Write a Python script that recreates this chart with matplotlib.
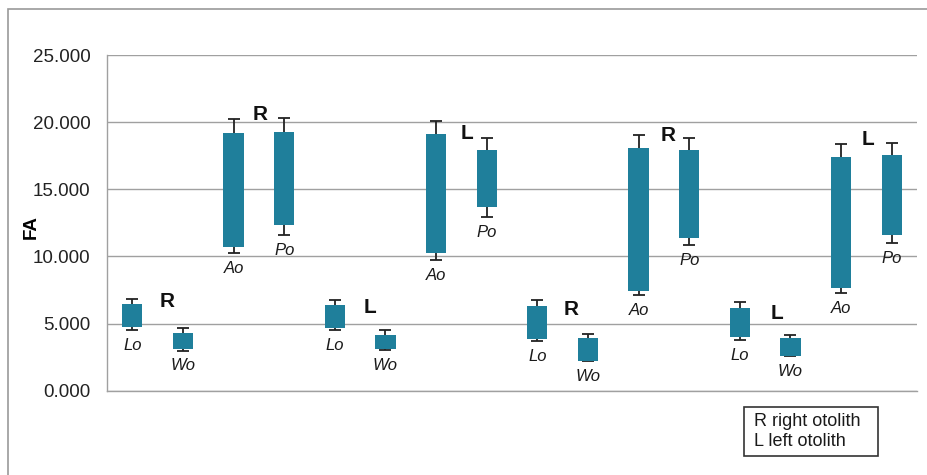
import matplotlib
matplotlib.use('Agg')
import matplotlib.pyplot as plt
from matplotlib.patches import Rectangle

plt.rcParams['font.family'] = ['Liberation Sans', 'DejaVu Sans']

# one entry per bar, left to right
names = ['Lo', 'Wo', 'Ao', 'Po'] * 4
box_low = [4.76, 3.08, 10.72, 12.33, 4.68, 3.11, 10.27, 13.68,
           3.86, 2.24, 7.46, 11.34, 3.98, 2.61, 7.66, 11.62]
box_high = [6.43, 4.32, 19.20, 19.28, 6.37, 4.18, 19.10, 17.91,
            6.29, 3.93, 18.06, 17.91, 6.17, 3.93, 17.41, 17.54]
err_low = [4.54, 2.98, 10.22, 11.59, 4.50, 3.01, 9.73, 12.94,
           3.68, 2.19, 7.09, 10.85, 3.76, 2.56, 7.29, 11.02]
err_high = [6.85, 4.64, 20.22, 20.30, 6.79, 4.50, 20.10, 18.80,
            6.72, 4.23, 19.03, 18.80, 6.62, 4.18, 18.36, 18.46]

# side letters (R = right otolith, L = left otolith) and where they sit
sides = ['R', 'R', 'L', 'L', 'R', 'R', 'L', 'L']
side_x = [0.68, 2.53, 4.70, 6.61, 8.67, 10.59, 12.73, 14.54]
side_y = [6.68, 20.60, 6.16, 19.17, 6.06, 19.04, 5.76, 18.67]

yticks = [0, 5, 10, 15, 20, 25]
legend_lines = ['R right otolith', 'L left otolith']

bar_color = '#1f7f9b'
grid_color = '#a0a0a0'

fig = plt.figure(figsize=(9.28, 4.75), dpi=100)
# outer frame of the pasted chart (only top and left edges show)
fig.patches.append(Rectangle((8 / 928, -0.1), 1.2, (475 - 9) / 475 + 0.1,
                             transform=fig.transFigure, fill=False,
                             edgecolor='#9a9a9a', linewidth=1.2))

ax = fig.add_axes([107 / 928, (475 - 390.7) / 475, 810 / 928, 335.7 / 475])

x = list(range(len(names)))
heights = [h - l for l, h in zip(box_low, box_high)]
ax.bar(x, heights, bottom=box_low, width=0.4, color=bar_color, zorder=3)

mids = [(l + h) / 2 for l, h in zip(box_low, box_high)]
yerr = [[m - e for m, e in zip(mids, err_low)],
        [e - m for m, e in zip(mids, err_high)]]
ax.errorbar(x, mids, yerr=yerr, fmt='none', ecolor='#222222',
            elinewidth=1.3, capsize=4, capthick=1.3, zorder=2)

for i, name in enumerate(names):
    ax.annotate(name, (i, err_low[i]), xytext=(0, -11), textcoords='offset points',
                ha='center', va='center', fontsize=12, style='italic',
                color='#1a1a1a')

for s, sx, sy in zip(sides, side_x, side_y):
    ax.text(sx, sy, s, ha='center', va='center', fontsize=15,
            fontweight='bold', color='#111111')

ax.set_xlim(-0.5, len(names) - 0.5)
ax.set_ylim(0, 25)
ax.set_yticks(yticks)
ax.set_yticklabels(['%.3f' % v for v in yticks], fontsize=13.5, color='#222222')
ax.set_xticks([])
ax.tick_params(axis='y', length=0, pad=12)
ax.set_ylabel('FA', fontsize=13.5, fontweight='bold')
ax.yaxis.set_label_coords(-0.083, 0.488)

ax.grid(axis='y', color=grid_color, linewidth=1.0, zorder=0)
ax.set_axisbelow(True)
for side in ['top', 'right']:
    ax.spines[side].set_visible(False)
for side in ['left', 'bottom']:
    ax.spines[side].set_color(grid_color)
    ax.spines[side].set_linewidth(1.0)

# legend box explaining the letters
fig.patches.append(Rectangle((744 / 928, (475 - 456) / 475), 134 / 928, 49 / 475,
                             transform=fig.transFigure, fill=False,
                             edgecolor='#333333', linewidth=1.2))
for k, line in enumerate(legend_lines):
    fig.text(754 / 928, (475 - 421.7 - 20 * k) / 475, line, fontsize=13,
             va='center', ha='left', color='#1a1a1a')

fig.savefig('out.png', dpi=100)
